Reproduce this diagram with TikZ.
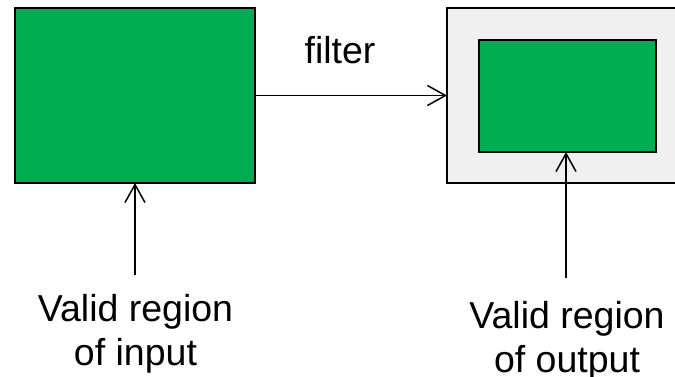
\documentclass[tikz,border=0pt]{standalone}
\usepackage{fontspec}
\setmainfont{Liberation Sans}
\usetikzlibrary{arrows.meta}
\definecolor{regiongreen}{RGB}{0,172,80}
\definecolor{padgray}{RGB}{240,240,240}
\begin{document}
\begin{tikzpicture}[x=1pt,y=-1pt,
  region/.style={draw=black,line width=2pt,fill=regiongreen,inner sep=0pt,outer sep=0pt},
  padded/.style={draw=black,line width=2pt,fill=padgray,inner sep=0pt,outer sep=0pt},
  link/.style={draw=black,line width=1.5pt,-{Straight Barb[length=18pt,width=20pt,line width=1.5pt]}},
  bigtext/.style={font=\fontsize{37.5pt}{44pt}\selectfont,inner sep=0pt},
  caption/.style={bigtext,align=center,anchor=base}]
  \useasboundingbox (0,0) rectangle (675,376);
  % input image, fully valid
  \node[region,minimum width=240pt,minimum height=175pt] (in) at (135,95.5) {};
  % output image: grey border around the valid part
  \node[padded,minimum width=232pt,minimum height=175pt] (out) at (563,95.5) {};
  \node[region,minimum width=177pt,minimum height=112pt] (valid) at (567.5,96) {};
  % filtering step
  \draw[link] (in.east) -- (out.west);
  \node[bigtext,anchor=base] (filt) at (340,63) {filter};
  % captions with pointers
  \node[caption] (capin) at (135.5,365) {Valid region\\of input};
  \node[caption] (capout) at (567,372) {Valid region\\of output};
  \coordinate (pin) at (135,275);
  \coordinate (pout) at (566,278);
  \draw[link] (pin) -- (pin |- in.south);
  \draw[link] (pout) -- (pout |- valid.south);
\end{tikzpicture}
\end{document}
